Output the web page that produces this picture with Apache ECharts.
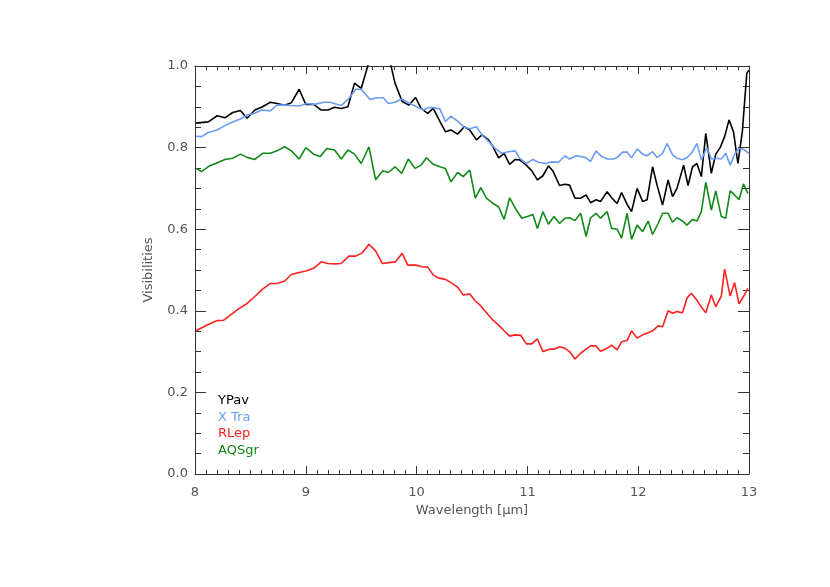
<!DOCTYPE html>
<html>
<head>
<meta charset="utf-8">
<script src="https://cdn.jsdelivr.net/npm/echarts@6/dist/echarts.min.js"></script>
<style>
  html, body { margin: 0; padding: 0; background: #fff; }
  #chart { width: 830px; height: 587px; }
</style>
</head>
<body>
<div id="chart"></div>
<script>
// wavelength [um], visibility pairs
const ypav = [
  [8.01,0.860],[8.12,0.863],[8.20,0.878],[8.27,0.873],[8.34,0.886],[8.41,0.891],[8.47,0.872],[8.54,0.892],
  [8.61,0.900],[8.68,0.911],[8.74,0.908],[8.81,0.904],[8.87,0.910],[8.94,0.943],[9.00,0.906],[9.07,0.906],
  [9.14,0.892],[9.20,0.892],[9.26,0.899],[9.32,0.896],[9.38,0.900],[9.44,0.958],[9.50,0.945],[9.57,1.01],
  [9.64,1.06],[9.71,1.07],[9.805,0.958],[9.87,0.913],[9.93,0.904],[9.99,0.923],[10.04,0.896],[10.10,0.884],
  [10.15,0.896],[10.21,0.864],[10.26,0.839],[10.31,0.843],[10.37,0.833],[10.43,0.851],[10.48,0.843],[10.54,0.819],
  [10.59,0.831],[10.65,0.819],[10.69,0.802],[10.74,0.775],[10.79,0.786],[10.84,0.759],[10.89,0.771],[10.93,0.770],
  [10.99,0.757],[11.04,0.743],[11.09,0.721],[11.14,0.731],[11.19,0.755],[11.23,0.743],[11.29,0.707],[11.34,0.710],
  [11.38,0.708],[11.43,0.676],[11.48,0.676],[11.53,0.684],[11.57,0.665],[11.62,0.672],[11.66,0.668],[11.72,0.692],
  [11.76,0.677],[11.81,0.663],[11.85,0.690],[11.90,0.661],[11.94,0.643],[11.99,0.700],[12.04,0.668],[12.08,0.672],
  [12.13,0.753],[12.17,0.708],[12.22,0.659],[12.27,0.721],[12.31,0.680],[12.35,0.700],[12.41,0.757],[12.45,0.707],
  [12.49,0.753],[12.53,0.761],[12.57,0.729],[12.61,0.835],[12.66,0.737],[12.70,0.784],[12.74,0.800],[12.78,0.827],
  [12.82,0.868],[12.86,0.839],[12.90,0.761],[12.94,0.839],[12.98,0.982],[13.0,0.99]
]
const xtra = [
  [8.01,0.828],[8.06,0.827],[8.12,0.837],[8.20,0.843],[8.27,0.854],[8.35,0.864],[8.41,0.870],[8.47,0.880],
  [8.54,0.884],[8.60,0.892],[8.68,0.890],[8.74,0.904],[8.81,0.904],[8.87,0.903],[8.94,0.902],[9.01,0.908],
  [9.08,0.906],[9.16,0.911],[9.22,0.911],[9.28,0.906],[9.32,0.903],[9.39,0.921],[9.45,0.943],[9.50,0.943],
  [9.58,0.918],[9.64,0.922],[9.70,0.922],[9.745,0.908],[9.805,0.911],[9.866,0.919],[9.94,0.908],[10.0,0.900],
  [10.06,0.892],[10.11,0.898],[10.15,0.898],[10.21,0.895],[10.26,0.864],[10.31,0.877],[10.37,0.865],[10.43,0.850],
  [10.48,0.846],[10.54,0.851],[10.59,0.831],[10.65,0.815],[10.71,0.798],[10.77,0.786],[10.83,0.790],[10.89,0.792],
  [10.93,0.774],[10.99,0.761],[11.05,0.771],[11.10,0.764],[11.16,0.761],[11.22,0.765],[11.28,0.764],[11.34,0.780],
  [11.38,0.772],[11.44,0.780],[11.52,0.776],[11.57,0.766],[11.62,0.792],[11.67,0.778],[11.72,0.772],[11.78,0.772],
  [11.81,0.776],[11.86,0.789],[11.90,0.789],[11.94,0.775],[11.99,0.797],[12.04,0.784],[12.08,0.780],[12.13,0.790],
  [12.17,0.776],[12.22,0.786],[12.26,0.810],[12.31,0.782],[12.35,0.774],[12.40,0.770],[12.44,0.775],[12.48,0.786],
  [12.53,0.810],[12.57,0.770],[12.62,0.800],[12.66,0.772],[12.71,0.774],[12.75,0.772],[12.79,0.786],[12.83,0.757],
  [12.87,0.784],[12.91,0.798],[12.95,0.796],[13.0,0.786]
]
const rlep = [
  [8.01,0.351],[8.11,0.365],[8.20,0.376],[8.26,0.377],[8.33,0.392],[8.40,0.406],[8.47,0.418],[8.54,0.435],
  [8.61,0.453],[8.68,0.467],[8.74,0.467],[8.81,0.473],[8.87,0.489],[8.94,0.494],[9.01,0.498],[9.07,0.504],
  [9.14,0.520],[9.20,0.516],[9.26,0.515],[9.32,0.516],[9.39,0.534],[9.45,0.534],[9.51,0.542],[9.57,0.563],
  [9.63,0.547],[9.69,0.516],[9.75,0.518],[9.81,0.520],[9.87,0.541],[9.92,0.512],[9.99,0.512],[10.05,0.508],
  [10.10,0.507],[10.15,0.488],[10.20,0.480],[10.26,0.477],[10.31,0.469],[10.37,0.458],[10.42,0.439],[10.48,0.441],
  [10.53,0.424],[10.58,0.412],[10.64,0.392],[10.69,0.377],[10.74,0.365],[10.79,0.351],[10.84,0.338],[10.89,0.341],
  [10.94,0.340],[10.99,0.319],[11.04,0.319],[11.09,0.331],[11.14,0.300],[11.20,0.306],[11.24,0.306],[11.29,0.312],
  [11.34,0.308],[11.38,0.300],[11.43,0.282],[11.48,0.296],[11.53,0.306],[11.57,0.314],[11.62,0.314],[11.66,0.301],
  [11.72,0.308],[11.76,0.316],[11.81,0.304],[11.85,0.324],[11.90,0.327],[11.94,0.351],[11.99,0.333],[12.04,0.341],
  [12.09,0.346],[12.13,0.351],[12.18,0.363],[12.22,0.361],[12.27,0.400],[12.31,0.394],[12.35,0.398],[12.40,0.395],
  [12.44,0.431],[12.48,0.443],[12.53,0.426],[12.57,0.409],[12.61,0.395],[12.66,0.439],[12.70,0.410],[12.75,0.436],
  [12.78,0.502],[12.83,0.436],[12.87,0.469],[12.91,0.417],[12.95,0.435],[12.99,0.455]
]
const aqsgr = [
  [8.01,0.749],[8.06,0.741],[8.13,0.755],[8.20,0.763],[8.27,0.771],[8.34,0.774],[8.41,0.784],[8.47,0.776],
  [8.54,0.771],[8.61,0.786],[8.68,0.786],[8.74,0.792],[8.81,0.802],[8.87,0.792],[8.94,0.772],[9.00,0.800],
  [9.07,0.784],[9.13,0.778],[9.19,0.798],[9.26,0.794],[9.32,0.772],[9.38,0.794],[9.44,0.784],[9.50,0.761],
  [9.57,0.802],[9.63,0.721],[9.695,0.743],[9.745,0.739],[9.805,0.753],[9.866,0.737],[9.925,0.772],[9.985,0.749],
  [10.04,0.757],[10.09,0.775],[10.15,0.759],[10.21,0.753],[10.26,0.749],[10.31,0.716],[10.37,0.739],[10.42,0.729],
  [10.48,0.745],[10.53,0.676],[10.58,0.702],[10.63,0.676],[10.69,0.663],[10.74,0.655],[10.79,0.624],[10.84,0.677],
  [10.90,0.647],[10.95,0.627],[11.00,0.631],[11.05,0.636],[11.09,0.602],[11.14,0.643],[11.19,0.612],[11.24,0.631],
  [11.29,0.614],[11.34,0.627],[11.38,0.628],[11.43,0.621],[11.48,0.639],[11.53,0.582],[11.57,0.628],[11.62,0.639],
  [11.66,0.627],[11.72,0.643],[11.76,0.602],[11.81,0.600],[11.85,0.578],[11.90,0.639],[11.94,0.575],[11.99,0.610],
  [12.04,0.594],[12.09,0.620],[12.13,0.587],[12.18,0.614],[12.22,0.639],[12.27,0.639],[12.31,0.617],[12.35,0.628],
  [12.40,0.620],[12.44,0.610],[12.49,0.624],[12.53,0.620],[12.57,0.643],[12.61,0.715],[12.66,0.647],[12.70,0.694],
  [12.75,0.631],[12.79,0.627],[12.83,0.694],[12.87,0.684],[12.91,0.672],[12.95,0.711],[12.99,0.688]
]
const names = ['YPav', 'X Tra', 'RLep', 'AQSgr']
const colors = ['#000000', '#6b9cf4', '#ff2020', '#13891a']

const font = 'DejaVu Sans'
const textColor = '#555'
const lineColor = '#333'

function xAxisDef (pos, labels) {
  return {
    type: 'value', position: pos, min: 8, max: 13, interval: 1,
    axisLine: { show: true, onZero: false, lineStyle: { color: lineColor, width: 1 } },
    axisTick: { show: true, inside: true, length: 8, lineStyle: { color: lineColor } },
    minorTick: { show: true, splitNumber: 10, length: 4, lineStyle: { color: lineColor } },
    splitLine: { show: false },
    axisLabel: { show: labels, margin: 12, color: textColor, fontFamily: font, fontSize: 13 },
    name: labels ? 'Wavelength [μm]' : '',
    nameLocation: 'middle', nameGap: 30,
    nameTextStyle: { color: textColor, fontFamily: font, fontSize: 13 }
  }
}
function yAxisDef (pos, labels) {
  return {
    type: 'value', position: pos, min: 0, max: 1, interval: 0.2,
    axisLine: { show: true, onZero: false, lineStyle: { color: lineColor, width: 1 } },
    axisTick: { show: true, inside: true, length: 11, lineStyle: { color: lineColor } },
    minorTick: { show: true, splitNumber: 4, length: 6, lineStyle: { color: lineColor } },
    splitLine: { show: false },
    axisLabel: { show: labels, margin: 7, color: textColor, fontFamily: font, fontSize: 13,
      formatter: v => v.toFixed(1) },
    name: labels ? 'Visibilities' : '',
    nameLocation: 'middle', nameGap: 40,
    nameTextStyle: { color: textColor, fontFamily: font, fontSize: 13 }
  }
}

const seriesData = [ypav, xtra, rlep, aqsgr]
const option = {
  backgroundColor: '#fff',
  animation: false,
  grid: { left: 195, right: 81, top: 66, bottom: 113 },
  legend: {
    orient: 'vertical', left: 208, top: 389,
    itemWidth: 0, itemHeight: 14, itemGap: 2.5,
    icon: 'rect',
    textStyle: { fontFamily: font, fontSize: 13 },
    data: names.map((n, i) => ({ name: n, textStyle: { color: colors[i] } }))
  },
  xAxis: [xAxisDef('bottom', true), xAxisDef('top', false)],
  yAxis: [yAxisDef('left', true), yAxisDef('right', false)],
  series: names.map((n, i) => ({
    name: n, type: 'line', data: seriesData[i],
    showSymbol: false, symbol: 'none', clip: true,
    color: colors[i],
    lineStyle: { color: colors[i], width: 1.6 }
  }))
}

const myChart = echarts.init(document.getElementById('chart'))
myChart.setOption(option)
</script>
</body>
</html>
